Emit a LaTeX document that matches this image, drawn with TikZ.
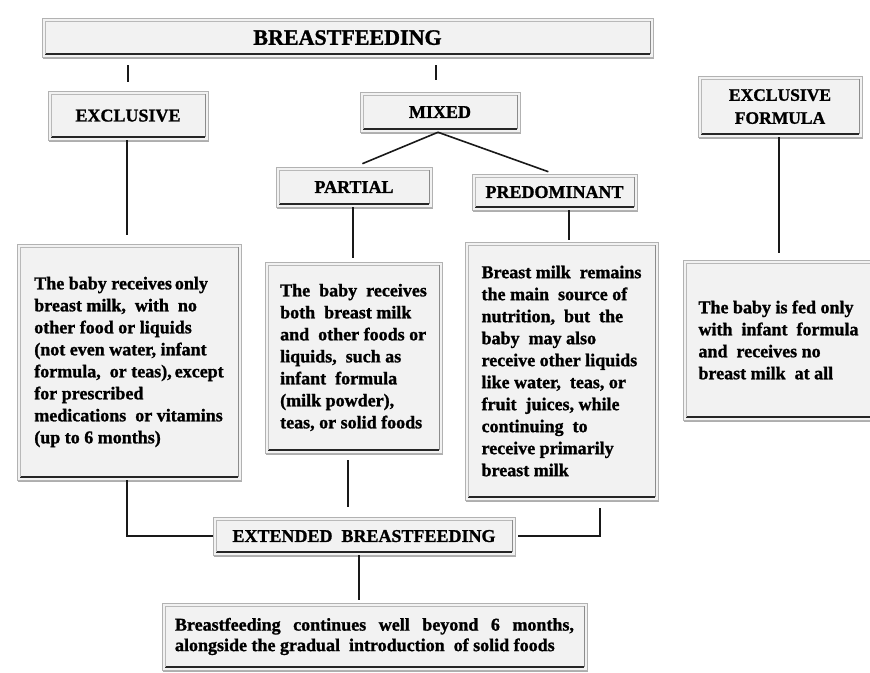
\documentclass[tikz,border=0pt]{standalone}
\usepackage{fontspec}
\setmainfont{Liberation Serif}[BoldFeatures={FakeBold=1.2}]
\usetikzlibrary{shadows}
\tikzset{
  bx/.style={draw=gray!60, line width=0.5pt, fill=black!5, inner sep=0pt, align=left,
    font=\bfseries\fontsize{18}{22}\selectfont,
    drop shadow={shadow xshift=0.8pt, shadow yshift=-2pt, opacity=.45, fill=black!70},
    path picture={
      \draw[black!85, line width=1.4pt]
        ([xshift=3pt,yshift=3pt]path picture bounding box.south west) --
        ([xshift=-3pt,yshift=3pt]path picture bounding box.south east);
      \draw[black!45, line width=1pt]
        ([xshift=-3pt,yshift=3pt]path picture bounding box.south east) --
        ([xshift=-3pt,yshift=-3pt]path picture bounding box.north east);
      \draw[gray!55, line width=0.6pt]
        ([xshift=3pt,yshift=3pt]path picture bounding box.south west) --
        ([xshift=3pt,yshift=-3pt]path picture bounding box.north west) --
        ([xshift=-3pt,yshift=-3pt]path picture bounding box.north east);
    }},
  hd/.style={bx, text depth=0pt},
  ln/.style={line width=1.6pt, draw=black!90},
}
\begin{document}
\begin{tikzpicture}[x=1pt,y=-1pt]
\useasboundingbox (0,0) rectangle (870,672);

% header boxes
\node[hd, minimum width=611pt, minimum height=39pt, font=\bfseries\fontsize{22}{24}\selectfont] (BF) at (347.5,37.5) {BREASTFEEDING};
\node[hd, minimum width=160pt, minimum height=49pt] (EXCL) at (128,115.5) {EXCLUSIVE};
\node[hd, minimum width=160pt, minimum height=40pt] (MIXED) at (440,112) {MIXED};
\node[hd, minimum width=164pt, minimum height=61pt, align=center, font=\bfseries\fontsize{17.5}{23}\selectfont] (EXF) at (780,106.5) {EXCLUSIVE\\FORMULA};
\node[hd, minimum width=156pt, minimum height=40pt] (PARTIAL) at (354,187) {PARTIAL};
\node[hd, minimum width=165pt, minimum height=36pt] (PRED) at (554.5,192) {PREDOMINANT};
\node[hd, minimum width=302pt, minimum height=38pt] (EXT) at (364,536) {EXTENDED\ \ BREASTFEEDING};

% text boxes
\node[bx, minimum width=224pt, minimum height=236pt] (exclT) at (129,362) {The baby receives\hspace{-1.5pt} only\\breast milk, \ with \ no\\other food or liquids\\(not even water, infant\\formula, \ or teas),\hspace{-1.5pt} except\\for prescribed\\medications \ or vitamins\\(up to 6 months)};
\node[bx, minimum width=177pt, minimum height=191pt] (partT) at (353.5,357.5) {The \ baby \ receives\\both \ breast milk\\and \ other foods or\\liquids, \ such as\\infant \ formula\\(milk powder),\\teas, or solid foods};
\node[bx, minimum width=193pt, minimum height=258pt] (predT) at (561.5,371) {Breast milk \ remains\\the main \ source of\\nutrition, \ but \ the\\baby \ may also\\receive other liquids\\like water, \ teas, or\\fruit \ juices, while\\continuing \ to\\receive primarily\\breast milk};
\node[bx, minimum width=191pt, minimum height=160pt] (exfT) at (778.5,340) {The baby is fed only\\with \ infant \ formula\\and \ receives no\\breast milk \ at all};
\node[bx, minimum width=425pt, minimum height=67pt, font=\bfseries\fontsize{18}{20.5}\selectfont] (botT) at (374.5,636.5) {\makebox[399pt][s]{Breastfeeding continues well beyond 6 months,}\\alongside the gradual \ introduction \ of solid foods};

% connectors
\draw[ln, shorten <=8pt, shorten >=9pt] (BF.south -| EXCL.north) -- (EXCL.north);
\coordinate (m1) at ([xshift=-4pt]MIXED.north);
\draw[ln, shorten <=8pt, shorten >=12pt] (m1 |- BF.south) -- (m1);
\draw[ln, shorten >=8pt] ([xshift=-2pt]MIXED.south) -- ([xshift=1pt]PARTIAL.north);
\draw[ln, shorten >=6pt] ([xshift=-2pt]MIXED.south) -- ([xshift=-0.5pt]PRED.north);
\draw[ln, shorten >=9pt] ([xshift=-1pt]EXCL.south) -- ([xshift=-1pt]EXCL.south |- exclT.north);
\draw[ln, shorten >=4pt] ([xshift=-1pt]PARTIAL.south) -- ([xshift=-1pt]PARTIAL.south |- partT.north);
\coordinate (p1) at ([xshift=14.5pt]PRED.south);
\draw[ln, shorten >=2pt] (p1) -- (p1 |- predT.north);
\draw[ln, shorten >=7pt] ([xshift=-1pt]EXF.south) -- ([xshift=-1pt]EXF.south |- exfT.north);
\coordinate (e1) at ([xshift=-2pt]exclT.south);
\draw[ln] (e1) -- (e1 |- EXT.west) -- (EXT.west);
\coordinate (e2) at ([xshift=-5.5pt]partT.south);
\draw[ln, shorten <=7pt, shorten >=10pt] (e2) -- (e2 |- EXT.north);
\coordinate (e3) at ([xshift=38.5pt]predT.south);
\draw[ln, shorten <=8pt, shorten >=3pt] (e3) -- (e3 |- EXT.east) -- (EXT.east);
\coordinate (e4) at ([xshift=-5pt]EXT.south);
\draw[ln, shorten >=3pt] (e4) -- (e4 |- botT.north);
\end{tikzpicture}
\end{document}
